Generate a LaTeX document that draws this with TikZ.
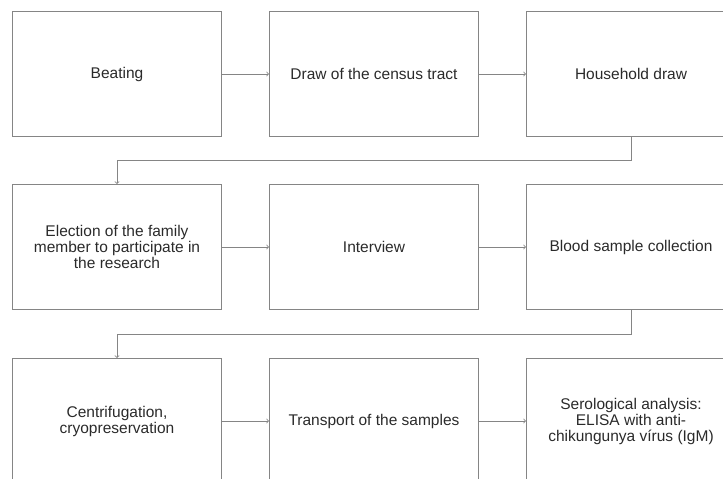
\documentclass[tikz,border=0pt]{standalone}
\usepackage{fontspec}
\setmainfont{Liberation Sans}
\usetikzlibrary{arrows,positioning}
\definecolor{linegray}{HTML}{858585}
\definecolor{textgray}{HTML}{2A2A2A}

\begin{document}
\begin{tikzpicture}[x=1pt, y=-1pt, >=to, node distance=47pt and 47pt,
	box/.style={draw=linegray, line width=0.8pt, minimum width=209.2pt, minimum height=125.2pt,
		inner sep=0pt, align=center, text=textgray, font=\fontsize{15.5}{16}\selectfont}]
	\clip (0,0) rectangle (723,479);
	
	% Row 1
	\node [box, anchor=north west] 	(beat) at (12,11) 		{Beating};
	\node [box]	(tract) [right=of beat]		{Draw of the census tract};
	\node [box]	(house) [right=of tract]	{Household draw};
	
	% Row 2
	\node [box]	(elect) [below=of beat]		{Election of the family\\member to participate in\\the research};
	\node [box]	(inter) [right=of elect]	{Interview};
	\node [box]	(blood) [right=of inter]	{Blood sample collection};
	
	% Row 3
	\node [box]	(centr) [below=48pt of elect]	{Centrifugation,\\cryopreservation};
	\node [box]	(trans) [right=of centr]	{Transport of the samples};
	\node [box]	(serol) [right=of trans]	{Serological analysis:\\ELISA with anti-\\chikungunya vírus (IgM)};
	
	% Paths
	\path [draw=linegray, line width=0.8pt, ->]
		(beat) edge (tract)
		(tract) edge (house)
		(elect) edge (inter)
		(inter) edge (blood)
		(centr) edge (trans)
		(trans) edge (serol);
	\draw [linegray, line width=0.8pt, ->] (house.south) -- ++(0,23.5) -| (elect.north);
	\draw [linegray, line width=0.8pt, ->] (blood.south) -- ++(0,24) -| (centr.north);
	
\end{tikzpicture}
\end{document}
